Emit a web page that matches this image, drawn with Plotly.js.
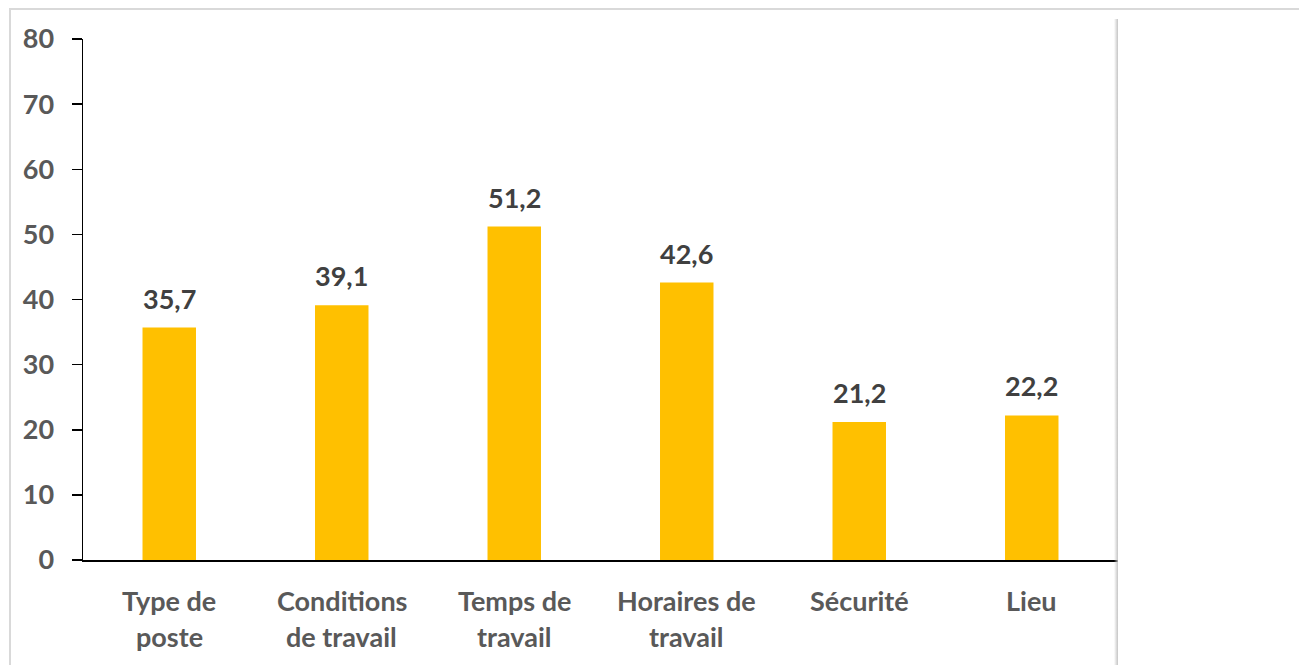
<!DOCTYPE html>
<html>
<head>
<meta charset="utf-8">
<script src="https://cdn.plot.ly/plotly-3.0.1.min.js"></script>
<style>
  html, body { margin: 0; padding: 0; background: #ffffff; }
  #wrap { position: relative; width: 1299px; height: 665px; overflow: hidden; background: #fff; }
  #chart { position: absolute; left: 0; top: 0; width: 1299px; height: 665px; }
  #topline { position: absolute; left: 9px; top: 8px; width: 1290px; height: 2px; background: #d9d9d9; }
  #leftline { position: absolute; left: 9px; top: 8px; width: 2px; height: 657px; background: #d9d9d9; }
  #rightshadow { position: absolute; left: 1114px; top: 19px; width: 4px; height: 646px;
    background: linear-gradient(to right, rgba(255,255,255,0), rgba(190,190,190,0.9)); }
</style>
</head>
<body>
<div id="wrap">
  <div id="chart"></div>
  <div id="topline"></div>
  <div id="leftline"></div>
  <div id="rightshadow"></div>
</div>
<script>
const categories = ["Type de<br>poste", "Conditions<br>de travail", "Temps de<br>travail", "Horaires de<br>travail", "Sécurité", "Lieu"];
const values = [35.7, 39.1, 51.2, 42.6, 21.2, 22.2];
const yTicks = [0, 10, 20, 30, 40, 50, 60, 70, 80];

const FONT = "Lato, 'Open Sans', sans-serif";

const trace = {
  type: "bar",
  x: categories,
  y: values,
  marker: { color: "#ffc000" },
  width: 0.31,
  hoverinfo: "skip"
};

const annotations = [];
// value labels
categories.forEach((c, i) => {
  annotations.push({
    x: c, y: values[i], xref: "x", yref: "y",
    text: values[i].toFixed(1).replace(".", ","),
    showarrow: false, yanchor: "bottom", yshift: 11,
    font: { family: FONT, size: 27, color: "#404040", weight: 700 }
  });
});
// category labels (each line separately for wider line spacing)
categories.forEach((c) => {
  const lines = c.split("<br>");
  lines.forEach((ln, j) => {
    annotations.push({
      x: c, y: 0, xref: "x", yref: "paper",
      text: ln, showarrow: false, yanchor: "middle",
      yshift: -40 - j * 36,
      font: { family: FONT, size: 27, color: "#595959", weight: 700 }
    });
  });
});

const layout = {
  width: 1299, height: 665,
  margin: { l: 83, r: 181, t: 39, b: 105, pad: 0 },
  paper_bgcolor: "rgba(0,0,0,0)",
  plot_bgcolor: "rgba(0,0,0,0)",
  separators: ", ",
  showlegend: false,
  bargap: 0.69,
  xaxis: {
    type: "category",
    showticklabels: false,
    ticks: "",
    showline: true, linecolor: "#000000", linewidth: 1.5,
    showgrid: false, zeroline: false,
    fixedrange: true
  },
  yaxis: {
    range: [0, 80],
    tickvals: yTicks,
    ticktext: yTicks.map(String),
    ticks: "outside", ticklen: 10, tickwidth: 1.5, tickcolor: "#000000",
    showline: true, linecolor: "#000000", linewidth: 1.5,
    showgrid: false, zeroline: false,
    ticklabelstandoff: 12,
    tickfont: { family: FONT, size: 27, color: "#595959", weight: 700 },
    fixedrange: true
  },
  annotations: annotations
};

Plotly.newPlot("chart", [trace], layout, { displayModeBar: false, staticPlot: true });
</script>
</body>
</html>
